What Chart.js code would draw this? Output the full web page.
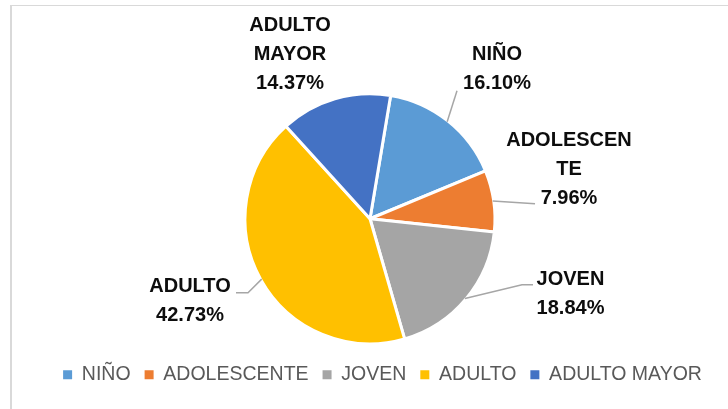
<!DOCTYPE html>
<html>
<head>
<meta charset="utf-8">
<script src="https://cdn.jsdelivr.net/npm/chart.js@4"></script>
<style>
  html, body { margin: 0; padding: 0; background: #fff; overflow: hidden; }
  .frame { position: absolute; left: 10px; top: 5px; width: 760px; height: 460px;
           border-left: 2px solid #d9d9d9; border-top: 1px solid #d9d9d9; }
  #wrap { position: absolute; left: 0; top: 0; width: 728px; height: 409px; }
</style>
</head>
<body>
<div class="frame"></div>
<div id="wrap"><canvas id="pie"></canvas></div>
<script>
const categories = ['NIÑO', 'ADOLESCENTE', 'JOVEN', 'ADULTO', 'ADULTO MAYOR'];
const percentages = [16.10, 7.96, 18.84, 42.73, 14.37];
const sliceColors = ['#5B9BD5', '#ED7D31', '#A5A5A5', '#FFC000', '#4472C4'];

const FONT = '"Liberation Sans", Arial, sans-serif';

// break a label into lines no wider than maxWidth (words first, then letters)
function wrapText(ctx, text, maxWidth) {
  const lines = [];
  let cur = '';
  text.split(' ').forEach(word => {
    const test = cur ? cur + ' ' + word : word;
    if (ctx.measureText(test).width <= maxWidth) { cur = test; return; }
    if (cur) lines.push(cur);
    cur = '';
    for (const ch of word) {
      if (ctx.measureText(cur + ch).width > maxWidth && cur) { lines.push(cur); cur = ''; }
      cur += ch;
    }
  });
  if (cur) lines.push(cur);
  return lines;
}

// data labels outside the pie, with leader lines
const outsideLabels = {
  id: 'outsideLabels',
  afterDatasetsDraw(chart, args, opts) {
    const ctx = chart.ctx;
    const meta = chart.getDatasetMeta(0);
    ctx.save();
    ctx.font = 'bold 20px ' + FONT;
    ctx.textAlign = 'center';
    ctx.textBaseline = 'middle';
    meta.data.forEach((arc, i) => {
      const { x, y, startAngle, endAngle, outerRadius } =
        arc.getProps(['x', 'y', 'startAngle', 'endAngle', 'outerRadius'], true);
      const place = opts.places[i];
      const lines = wrapText(ctx, chart.data.labels[i], opts.maxWidth);
      lines.push(chart.data.datasets[0].data[i].toFixed(2) + '%');
      const cx = x + place.dx, cy = y + place.dy;
      if (place.leader) {
        const mid = (startAngle + endAngle) / 2;
        const r = outerRadius - 1;
        ctx.beginPath();
        ctx.moveTo(x + Math.cos(mid) * r, y + Math.sin(mid) * r);
        place.leader.forEach(p => ctx.lineTo(cx + p[0], cy + p[1]));
        ctx.strokeStyle = '#a6a6a6';
        ctx.lineWidth = 1.5;
        ctx.stroke();
      }
      ctx.fillStyle = '#0d0d0d';
      const top = cy - (lines.length - 1) * opts.lineHeight / 2;
      lines.forEach((t, k) => ctx.fillText(t, cx, top + k * opts.lineHeight));
    });
    ctx.restore();
  }
};

// legend sits a little right of the pie centre in the original
const legendShift = {
  id: 'legendShift',
  afterLayout(chart, args, opts) {
    chart.legend.left += opts.dx;
    chart.legend.right += opts.dx;
  }
};

new Chart(document.getElementById('pie'), {
  type: 'pie',
  data: {
    labels: categories,
    datasets: [{
      data: percentages,
      backgroundColor: sliceColors,
      borderColor: '#fff',
      borderWidth: 3,
      radius: 125
    }]
  },
  options: {
    responsive: true,
    maintainAspectRatio: false,
    animation: false,
    rotation: 9.5,
    layout: { padding: { top: 86.5, bottom: 14.5, left: 12, right: 0 } },
    plugins: {
      legend: {
        position: 'bottom',
        labels: {
          boxWidth: 9,
          boxHeight: 9,
          padding: 14,
          color: '#595959',
          font: { family: FONT, size: 19.5 },
          generateLabels(chart) {
            return Chart.overrides.pie.plugins.legend.labels.generateLabels(chart)
              .map(item => ({ ...item, lineWidth: 0 }));
          }
        }
      },
      tooltip: { enabled: false },
      legendShift: { dx: 12.5 },
      outsideLabels: {
        maxWidth: 128,
        lineHeight: 29,
        places: [
          { dx: 127, dy: -149.5, leader: [[-40, 21.5]] },
          { dx: 199, dy: -49.5, leader: [[-34, 34.5]] },
          { dx: 200.5, dy: 75, leader: [[-48.5, -9], [-37.5, -9]] },
          { dx: -180, dy: 82.5, leader: [[58, -8.5], [46, -8.5]] },
          { dx: -80, dy: -164 }
        ]
      }
    }
  },
  plugins: [outsideLabels, legendShift]
});
</script>
</body>
</html>
